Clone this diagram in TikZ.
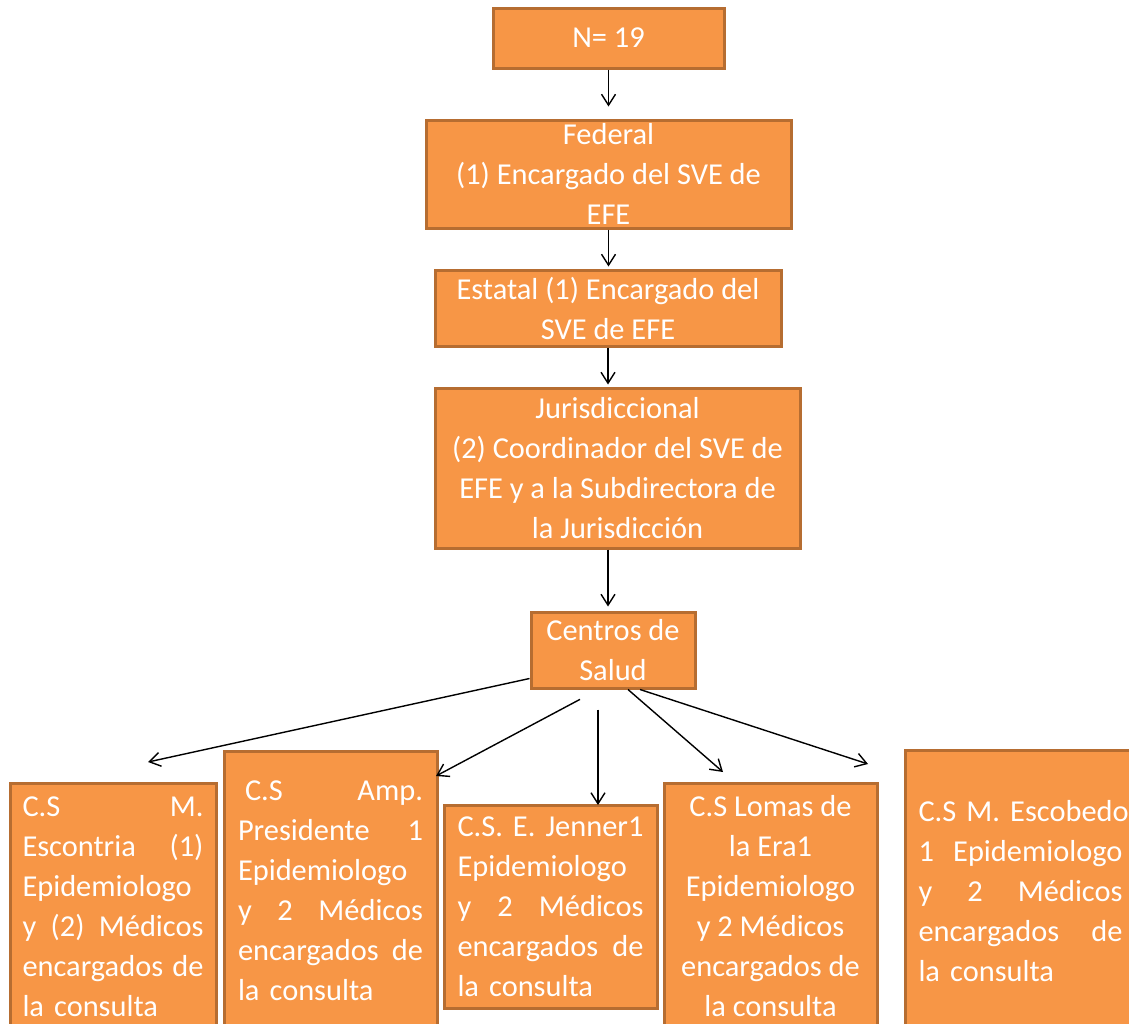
\documentclass[tikz,border=0pt]{standalone}
\usepackage{fontspec}
\setmainfont{Carlito}
\definecolor{BoxOrange}{RGB}{247,150,70}
\definecolor{BoxBorder}{RGB}{182,109,49}
\usetikzlibrary{
  arrows.meta,
  calc
}

\begin{document}
\begin{tikzpicture}[
  x=0.5pt, y=-0.5pt,
  box/.style={
    draw=BoxBorder,
    fill=BoxOrange,
    line width=1.5pt,
    text=white, inner sep=0pt,
    align=center,
    font=\fontsize{15.2pt}{20pt}\selectfont},
  jbox/.style={
    box, align=left},
  arrow/.style={
    -{Straight Barb[length=5.5pt,width=7pt]},
    line width=0.7pt}
]
\useasboundingbox (0,0) rectangle (1129,1023);
\path[clip] (0,0) rectangle (1129,1023);

\node[box, minimum width=115.5pt, minimum height=30pt]
  (n) at (608.5,38) {N= 19};
\node[box, minimum width=182.5pt, minimum height=54pt]
  (fed) at (608.5,174)
  {Federal\\(1) Encargado del SVE de\\EFE};
\node[box, minimum width=173pt, minimum height=38pt]
  (est) at (608,308)
  {Estatal (1) Encargado del\\SVE de EFE};
\node[box, minimum width=182.5pt, minimum height=80pt]
  (jur) at (617.5,468)
  {Jurisdiccional\\(2) Coordinador del SVE de\\EFE y a la Subdirectora de\\la Jurisdicción};
\node[box, minimum width=82pt, minimum height=38pt]
  (cs) at (613,650) {Centros de\\Salud};

\node[jbox, minimum width=103pt, minimum height=123.5pt, text width=90.5pt]
  (esc) at (113,906.5)
  {C.S\hfill M.\\Escontria\hfill (1)\\Epidemiologo\\y\hfill (2)\hfill Médicos\\encargados\hfill de\\\mbox{la consulta}};
\node[jbox, minimum width=106.5pt, minimum height=140pt, text width=92.5pt]
  (pre) at (330.5,891)
  {\hspace*{3.5pt}C.S\hfill Amp.\\Presidente\hfill 1\\Epidemiologo\\y\hfill 2\hfill Médicos\\encargados\hfill de\\\mbox{la consulta}};
\node[jbox, minimum width=106.5pt, minimum height=101.5pt, text width=93pt]
  (jen) at (550.5,906.5)
  {C.S.\hfill E.\hfill Jenner1\\Epidemiologo\\y\hfill 2\hfill Médicos\\encargados\hfill de\\\mbox{la consulta}};
\node[box, minimum width=106.5pt, minimum height=123.5pt]
  (lom) at (770.5,906.5)
  {C.S Lomas de\\la Era1\\Epidemiologo\\y 2 Médicos\\encargados de\\la consulta};
\node[jbox, minimum width=115.5pt, minimum height=141pt, text width=102pt]
  (escb) at (1020.5,891)
  {\mbox{C.S M. Escobedo}\\1\hfill Epidemiologo\\y\hfill 2\hfill Médicos\\encargados\hfill de\\\mbox{la consulta}};

% arrows down the chain
\draw[arrow, shorten >=6pt] (n.south) -- (n.south |- fed.north);
\draw[arrow, shorten >=1pt] (fed.south) -- (fed.south |- est.north);
\draw[arrow, shorten >=1pt] (est.south) -- (est.south |- jur.north);
\draw[arrow, shorten >=2pt] (est.south |- jur.south) -- (est.south |- cs.north);

% arrows to the centros
\coordinate (t1) at (148,762);
\coordinate (t2) at (436,776);
\coordinate (t3) at (598,805);
\coordinate (t4) at (723,772);
\coordinate (t5) at (868,764);

\draw[arrow] ($(cs.south west)+(0,-11)$) -- (t1);
\foreach \dx/\t/\g in
  {-14.5/t2/10.5pt,-15/t3/10pt,15/t4/0pt,27/t5/0pt}{
  \draw[arrow, shorten <=\g] ($(cs.south)+(\dx,0)$) -- (\t);
}
\end{tikzpicture}
\end{document}
